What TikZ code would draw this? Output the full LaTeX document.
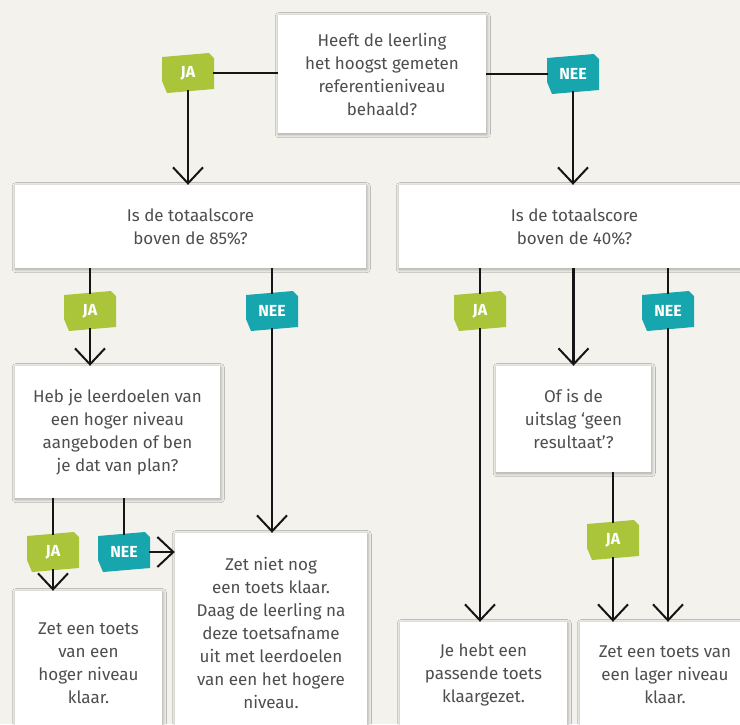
\documentclass[tikz,border=0pt]{standalone}
\usepackage{fontspec}
\setmainfont{Fira Sans}
\usetikzlibrary{arrows.meta,shadows.blur,calc}
\definecolor{bgc}{HTML}{F4F2ED}
\definecolor{jagreen}{HTML}{AAC53A}
\definecolor{neeteal}{HTML}{18A6AE}
\definecolor{txt}{HTML}{4E4E4E}
\definecolor{ln}{HTML}{151515}
\tikzset{
  qbox/.style={draw=none, fill=white, inner sep=0pt, align=center, text=txt,
    font=\fontsize{17}{23}\selectfont,
    blur shadow={shadow blur radius=3.5pt, shadow blur steps=12, shadow xshift=0.8pt, shadow yshift=-1.2pt, shadow opacity=35}},
  tagtext/.style={inner sep=0pt, minimum width=50pt, minimum height=34pt, text=white,
    font=\bfseries\fontsize{16}{16}\selectfont},
  thinln/.style={draw=ln, line width=1.1pt},
  thickarr/.style={draw=ln, line width=2.4pt, -{Straight Barb[length=16pt,width=30pt,line width=2pt]}},
}
\newcommand\mytag[4]{%
  \fill[#4, shift={(#2)}] (-26,-16) -- (21,-20) -- (26,-15) -- (26,16) -- (-21,20) -- (-26,8) -- cycle;
  \node[tagtext] (#1) at (#2) {#3};}
\begin{document}
\begin{tikzpicture}[x=1pt,y=-1pt]
\useasboundingbox (0,0) rectangle (740,724);
\clip (0,0) rectangle (740,724);
\fill[bgc] (0,0) rectangle (740,724);

% boxes
\node[qbox, minimum width=208pt, minimum height=118pt] (q1) at (382,74)
  {Heeft de leerling\\het hoogst gemeten\\referentieniveau\\behaald?};
\node[qbox, minimum width=351pt, minimum height=83pt] (q2) at (190.5,226.5)
  {Is de totaalscore\\boven de 85\%?};
\node[qbox, minimum width=351pt, minimum height=83pt] (q3) at (574.5,226.5)
  {Is de totaalscore\\boven de 40\%?};
\node[qbox, minimum width=205pt, minimum height=132pt] (q4) at (117.5,432)
  {Heb je leerdoelen van\\een hoger niveau\\aangeboden of ben\\je dat van plan?};
\node[qbox, minimum width=155pt, minimum height=106pt] (q5) at (573.5,419)
  {Of is de\\uitslag `geen\\resultaat'?};
\node[qbox, minimum width=147pt, minimum height=144pt] (r1) at (88.5,663)
  {Zet een toets\\van een\\hoger niveau\\klaar.};
\node[qbox, minimum width=192pt, minimum height=200pt] (r2) at (271,633)
  {Zet niet nog\\een toets klaar.\\Daag de leerling na\\deze toetsafname\\uit met leerdoelen\\van een het hogere\\niveau.};
\node[qbox, minimum width=167pt, minimum height=106pt] (r3) at (483.5,675)
  {Je hebt een\\passende toets\\klaargezet.};
\node[qbox, minimum width=170pt, minimum height=106pt] (r4) at (665,675)
  {Zet een toets van\\een lager niveau\\klaar.};

% tags
\mytag{t1}{188,73}{JA}{jagreen}
\mytag{t2}{573,74}{NEE}{neeteal}
\mytag{t3}{90,311}{JA}{jagreen}
\mytag{t4}{272,311}{NEE}{neeteal}
\mytag{t5}{480,311}{JA}{jagreen}
\mytag{t6}{668,311}{NEE}{neeteal}
\mytag{t7}{53,552}{JA}{jagreen}
\mytag{t8}{124,552}{NEE}{neeteal}
\mytag{t9}{613,540}{JA}{jagreen}

% connectors
\draw[thinln] (q1.west |- t1.east) -- (t1.east);
\draw[thickarr] (t1.south) -- (t1.south |- q2.north);
\draw[thinln] (q1.east |- t2.west) -- (t2.west);
\draw[thickarr] (t2.south) -- (t2.south |- q3.north);

\draw[thinln] (q2.south -| t3.north) -- (t3.north);
\draw[thickarr] (t3.south) -- (t3.south |- q4.north);
\draw[thinln] (q2.south -| t4.north) -- (t4.north);
\draw[thickarr] (t4.south) -- (t4.south |- r2.north);

\draw[thinln] (q3.south -| t5.north) -- (t5.north);
\draw[thickarr] (t5.south) -- (t5.south |- r3.north);
\draw[thickarr] (q3.south -| q5.north) -- (q5.north);
\draw[thinln] (q3.south -| t6.north) -- (t6.north);
\draw[thickarr] (t6.south) -- (t6.south |- r4.north);

\draw[thinln] (q4.south -| t7.north) -- (t7.north);
\draw[thickarr] (t7.south) -- (t7.south |- r1.north);
\draw[thinln] (q4.south -| t8.north) -- (t8.north);
\draw[thickarr] (t8.east) -- (t8.east -| r2.west);

\draw[thinln] (q5.south -| t9.north) -- (t9.north);
\draw[thickarr] (t9.south) -- (t9.south |- r4.north);
\end{tikzpicture}
\end{document}
